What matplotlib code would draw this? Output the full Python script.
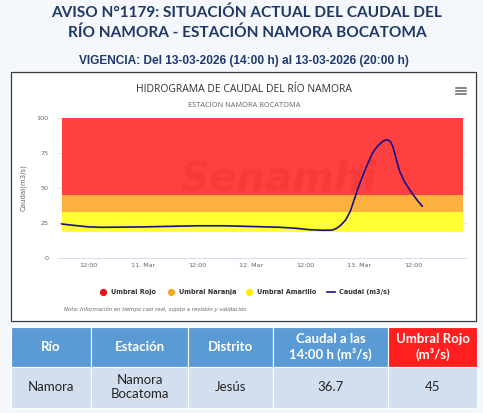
import matplotlib
matplotlib.use("Agg")
import matplotlib.pyplot as plt
from matplotlib.patches import Rectangle
from matplotlib.lines import Line2D

W, H = 483, 413

# hours counted from 10-Mar 00:00
hours = [6, 9, 12, 15, 18, 24, 30, 36, 42, 48, 54, 58, 61, 64, 66, 67, 68, 69, 70,
         71, 72, 73, 74, 75, 76, 77, 77.5, 78, 78.5, 79, 79.5, 80, 80.5, 81, 81.5, 82,
         83, 84, 85, 86]
caudal = [24.1, 23.0, 22.0, 21.7, 21.8, 22.0, 22.4, 22.8, 22.8, 22.3, 21.8, 21.0, 20.0,
          19.6, 19.7, 21.0, 23.5, 27.0, 33.0, 42.5, 52.0, 60.3, 68.0, 75.0, 79.5, 82.5,
          83.6, 84.1, 84.0, 82.5, 79.0, 73.0, 67.0, 61.5, 58.0, 54.5, 49.5, 44.8, 40.5, 36.7]

band_start, band_end = 6, 95
umbral_amarillo = 18.5
umbral_naranja = 32.5
umbral_rojo = 45
y_max = 100

tick_hours = [12, 24, 36, 48, 60, 72, 84]
tick_labels = ['12:00', '11. Mar', '12:00', '12. Mar', '12:00', '13. Mar', '12:00']

col_headers = ['Río', 'Estación', 'Distrito', 'Caudal a las\n14:00 h (m³/s)', 'Umbral Rojo\n(m³/s)']
row_values = ['Namora', 'Namora\nBocatoma', 'Jesús', '36.7', '45']

BG = '#f4f7fc'
NAVY = '#1f3864'


def fx(x):
    return x / W


def fy(y):
    return 1 - y / H


def box(x0, y0, x1, y1):
    return [fx(x0), fy(y1), (x1 - x0) / W, (y1 - y0) / H]


fig = plt.figure(figsize=(W / 100, H / 100), dpi=100)
fig.patch.set_facecolor(BG)

# headings
fig.text(fx(247), fy(12.5), 'AVISO N°1179: SITUACIÓN ACTUAL DEL CAUDAL DEL', ha='center', va='center',
         fontsize=11.1, fontweight='bold', color=NAVY, family='Lato')
fig.text(fx(247), fy(32.5), 'RÍO NAMORA - ESTACIÓN NAMORA BOCATOMA', ha='center', va='center',
         fontsize=11.1, fontweight='bold', color=NAVY, family='Lato')
fig.text(fx(244), fy(61), 'VIGENCIA: Del 13-03-2026 (14:00 h) al 13-03-2026 (20:00 h)', ha='center',
         va='center', fontsize=8.6, fontweight='bold', color='#1f3a70', family='Liberation Sans')

# chart frame
fig.add_artist(Rectangle((fx(11), fy(321)), 465 / W, 249.5 / H, transform=fig.transFigure,
                         facecolor='white', edgecolor='#3a3a3a', lw=0.9, zorder=0))

fig.text(fx(244), fy(89.5), 'HIDROGRAMA DE CAUDAL DEL RÍO NAMORA', ha='center', va='center',
         fontsize=7.5, color='#333333', family='Open Sans')
fig.text(fx(244.5), fy(105.5), 'ESTACION NAMORA BOCATOMA', ha='center', va='center',
         fontsize=5.3, color='#666666', family='Open Sans')
for yy in (88, 91, 94):
    fig.add_artist(Line2D([fx(456), fx(466)], [fy(yy), fy(yy)], transform=fig.transFigure,
                          color='#666666', lw=1.1))

ax = fig.add_axes(box(58, 117.7, 467, 257.7))
ax.set_facecolor('white')
ax.set_axisbelow(True)
ax.set_xlim(5.2, 95.9)
ax.set_ylim(0, y_max)
ax.fill_between([band_start, band_end], umbral_amarillo, umbral_naranja, color='#ffff33', lw=0, zorder=1)
ax.fill_between([band_start, band_end], umbral_naranja, umbral_rojo, color='#fbb040', lw=0, zorder=1)
ax.fill_between([band_start, band_end], umbral_rojo, y_max, color='#ff4040', lw=0, zorder=1)
ax.plot(hours, caudal, color='#14108a', lw=1.2, zorder=3, solid_capstyle='round')

ax.set_yticks([0, 25, 50, 75, 100])
ax.set_xticks(tick_hours)
ax.set_xticklabels(tick_labels)
ax.tick_params(axis='both', labelsize=4.6, colors='#666666', length=0, pad=4)
ax.tick_params(axis='y', pad=7)
ax.grid(axis='y', color='#e6e6e6', lw=0.6)
for s in ['top', 'right', 'left']:
    ax.spines[s].set_visible(False)
ax.spines['bottom'].set_color('#ccd6eb')
ax.spines['bottom'].set_linewidth(0.6)
ax.set_ylabel('Caudal(m3/s)', fontsize=5, color='#666666')
ax.yaxis.set_label_coords(-0.077, 0.5)

# watermark
fig.text(fx(279), fy(179), 'Senamhi', ha='center', va='center', fontsize=29, fontweight='bold',
         style='italic', color='#a00000', alpha=0.09, family='DejaVu Sans', zorder=2)

# legend
legend_items = [('Umbral Rojo', '#e8141a', 103), ('Umbral Naranja', '#f5a623', 170.7),
                ('Umbral Amarillo', '#ffee00', 249)]
for name, col, x in legend_items:
    fig.add_artist(Line2D([fx(x)], [fy(291.7)], transform=fig.transFigure, marker='o',
                          markersize=4.2, color=col, lw=0))
    fig.text(fx(x + 8), fy(291.7), name, ha='left', va='center', fontsize=4.7, fontweight='bold',
             color='#333333', family='DejaVu Sans')
fig.add_artist(Line2D([fx(327), fx(335)], [fy(291.7), fy(291.7)], transform=fig.transFigure,
                      color='#14108a', lw=1.2))
fig.text(fx(339), fy(291.7), 'Caudal (m3/s)', ha='left', va='center', fontsize=4.7, fontweight='bold',
         color='#333333', family='DejaVu Sans')
fig.text(fx(64), fy(309), 'Nota: Información en tiempo casi real, sujeto a revisión y validación',
         ha='left', va='center', fontsize=3.9, style='italic', color='#666666', family='DejaVu Sans')

# table
cols = [11, 91, 188, 273, 388, 477]
head_top, head_bot, row_bot = 326.7, 366.5, 408.3
for i in range(5):
    x0, x1 = cols[i], cols[i + 1]
    hc = '#ff1f1f' if i == 4 else '#5b9bd5'
    fig.add_artist(Rectangle((fx(x0), fy(head_bot)), (x1 - x0) / W, (head_bot - head_top) / H,
                             transform=fig.transFigure, facecolor=hc, edgecolor='white', lw=0.8))
    fig.add_artist(Rectangle((fx(x0), fy(row_bot)), (x1 - x0) / W, (row_bot - head_bot) / H,
                             transform=fig.transFigure, facecolor='#d3deef', edgecolor='white', lw=0.8))
    cx = (x0 + x1) / 2
    fig.text(fx(cx), fy((head_top + head_bot) / 2), col_headers[i], ha='center', va='center',
             fontsize=9.5, fontweight='bold', color='white', family='Lato', linespacing=1.25)
    fig.text(fx(cx), fy((head_bot + row_bot) / 2), row_values[i], ha='center', va='center',
             fontsize=9.5, color='#262626', family='Lato', linespacing=1.2)

fig.savefig('out.png', dpi=100, facecolor=BG)
